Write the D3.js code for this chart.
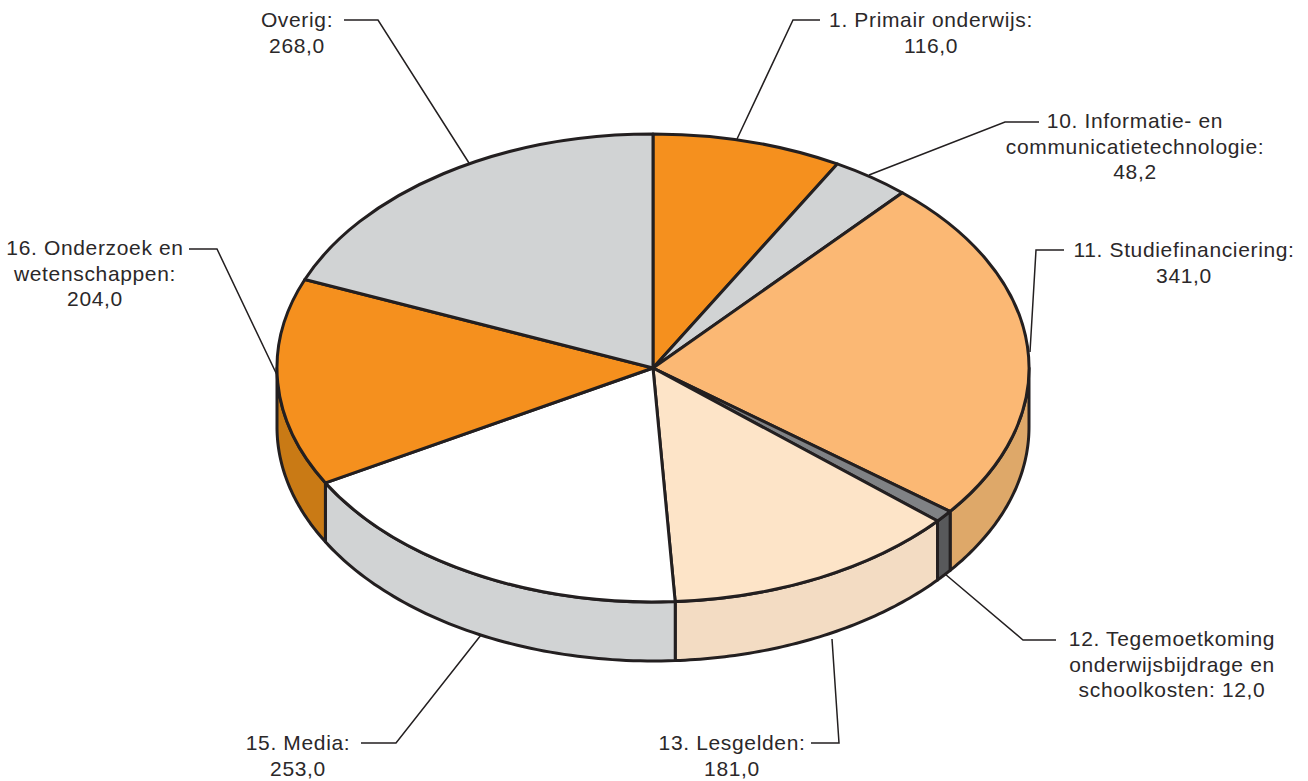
<!DOCTYPE html>
<html><head><meta charset="utf-8">
<script src="https://cdn.jsdelivr.net/npm/d3@7"></script>
<style>
html,body{margin:0;padding:0;background:#fff}
svg{display:block}
text{font-family:"Liberation Sans",Arial,sans-serif;font-size:21px;letter-spacing:0.65px;fill:#2b2829}
</style></head><body>
<svg id="c" width="1308" height="781"></svg>
<script>
const categories = ["1. Primair onderwijs","10. Informatie- en communicatietechnologie","11. Studiefinanciering","12. Tegemoetkoming onderwijsbijdrage en schoolkosten","13. Lesgelden","15. Media","16. Onderzoek en wetenschappen","Overig"];
const values = [116.0,48.2,341.0,12.0,181.0,253.0,204.0,268.0];
const topColors = ["#f5901e","#d1d3d4","#fbb874","#808285","#fde4c8","#ffffff","#f5901e","#d1d3d4"];
const sideColors = ["#c97a15","#c0c0c0","#dea869","#58595b","#f3dcc3","#d1d3d4","#c97a15","#c0c0c0"];
const labelLines = [["1. Primair onderwijs:","116,0"],["10. Informatie- en","communicatietechnologie:","48,2"],["11. Studiefinanciering:","341,0"],["12. Tegemoetkoming","onderwijsbijdrage en","schoolkosten: 12,0"],["13. Lesgelden:","181,0"],["15. Media:","253,0"],["16. Onderzoek en","wetenschappen:","204,0"],["Overig:","268,0"]];
const labelCentres = [[931,20],[1135,121],[1184,250],[1172,639],[732,743],[298,743],[95,248],[297,20]];
const leaders = [[[737,139],[793,20],[820,20]],[[869,175],[1005,122],[1039,122]],[[1030,352],[1036,250],[1064,250]],[[945,574],[1023,640],[1056,640]],[[832,639],[839,743],[811,743]],[[481,635],[396,743],[361,743]],[[277,375],[217,249],[189,249]],[[469,163],[378,20],[344,20]]];

const cx=653, cy=368, rx=376, ry=234, depth=59;
const xs=d3.scaleLinear().domain([-1,1]).range([cx-rx,cx+rx]);
const ys=d3.scaleLinear().domain([-1,1]).range([cy-ry,cy+ry]);
const ink="#231f20", sw=3;
const svg=d3.select("#c");
const arcs=d3.pie().sort(null).value(d=>d)(values);
const pt=(a,dz=0)=>[xs(Math.sin(a)),ys(-Math.cos(a))+dz];

// leader lines sit beneath the disc
svg.append("g").selectAll("path").data(leaders).join("path")
  .attr("d",d3.line()).attr("fill","none").attr("stroke",ink).attr("stroke-width",1.5);

// side wall
const line=d3.line();
const visible=arcs.map((d,i)=>({i,a0:Math.max(d.startAngle,Math.PI/2),a1:Math.min(d.endAngle,Math.PI*1.5)})).filter(d=>d.a1>d.a0);
const wall=d=>{
  const n=60, t=d3.range(n+1).map(k=>d.a0+(d.a1-d.a0)*k/n);
  return line([...t.map(a=>pt(a)),...t.slice().reverse().map(a=>pt(a,depth))])+"Z";
};
svg.append("g").selectAll("path").data(visible).join("path")
  .attr("d",wall).attr("fill",d=>sideColors[d.i]).attr("stroke",ink).attr("stroke-width",sw).attr("stroke-linejoin","round");

// top surface
const arc=d3.arc().innerRadius(0).outerRadius(1);
svg.append("g").attr("transform",`translate(${cx},${cy}) scale(${rx},${ry})`)
  .selectAll("path").data(arcs).join("path")
  .attr("d",arc).attr("fill",(d,i)=>topColors[i])
  .attr("stroke",ink).attr("stroke-width",sw).attr("stroke-linejoin","round")
  .attr("vector-effect","non-scaling-stroke");

// labels
const lh=25.5;
const g=svg.append("g").selectAll("text").data(labelLines).join("text")
  .attr("text-anchor","middle")
  .attr("transform",(d,i)=>`translate(${labelCentres[i][0]},${labelCentres[i][1]+7})`);
g.selectAll("tspan").data(d=>d).join("tspan").attr("x",0).attr("y",(d,i)=>i*lh).text(d=>d);
</script>
</body></html>
